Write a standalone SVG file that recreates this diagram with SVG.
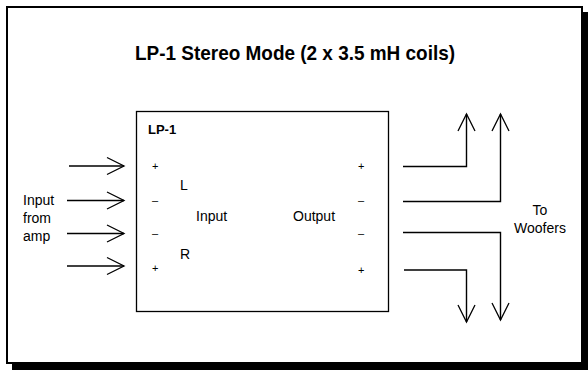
<svg xmlns="http://www.w3.org/2000/svg" width="588" height="370" viewBox="0 0 588 370">
<style>
text{font-family:"Liberation Sans",Arial,sans-serif;fill:#000}
.lbl{font-size:14px}
.pm{font-size:11px}
.wire{fill:none;stroke:#000;stroke-width:1.4}
</style>
<defs>
<marker id="arr" viewBox="0 0 20 20" refX="18" refY="10" markerWidth="20" markerHeight="20" markerUnits="userSpaceOnUse" orient="auto">
<path d="M1,1.5 L18,10 L1,18.5" fill="none" stroke="#000" stroke-width="1.3"/>
</marker>
</defs>
<rect x="0" y="0" width="588" height="370" fill="#fff"/>
<g id="frame">
<rect x="12" y="12" width="576" height="358" fill="#000"/>
<rect x="7" y="7" width="575" height="356" fill="#fff" stroke="#000" stroke-width="2"/>
<text x="295" y="60" font-size="21" font-weight="bold" text-anchor="middle" textLength="320" lengthAdjust="spacingAndGlyphs">LP-1 Stereo Mode (2 x 3.5 mH coils)</text>
</g>
<g id="lp1">
<rect x="136.5" y="111.5" width="252" height="200" fill="#fff" stroke="#000" stroke-width="1.3"/>
<text x="148" y="134" font-size="13" font-weight="bold">LP-1</text>
<text class="pm" x="152" y="170">+</text>
<text class="pm" x="152" y="204">–</text>
<text class="pm" x="152" y="237">–</text>
<text class="pm" x="152" y="272">+</text>
<text class="lbl" x="180" y="190">L</text>
<text class="lbl" x="180" y="259">R</text>
<text class="lbl" x="196" y="221">Input</text>
<text class="lbl" x="293" y="221">Output</text>
<text class="pm" x="358" y="170">+</text>
<text class="pm" x="358" y="204">–</text>
<text class="pm" x="358" y="237">–</text>
<text class="pm" x="358" y="274">+</text>
</g>
<g id="input-label">
<text class="lbl" x="23" y="205">Input</text>
<text class="lbl" x="23" y="223">from</text>
<text class="lbl" x="23" y="241">amp</text>
</g>
<g id="output-label">
<text class="lbl" x="540" y="215" text-anchor="middle">To</text>
<text class="lbl" x="540" y="233" text-anchor="middle">Woofers</text>
</g>
<g id="connectors">
<path class="wire" d="M69,166 H124" marker-end="url(#arr)"/>
<path class="wire" d="M67,200.5 H124" marker-end="url(#arr)"/>
<path class="wire" d="M67,233.5 H124" marker-end="url(#arr)"/>
<path class="wire" d="M67,266 H124" marker-end="url(#arr)"/>
<path class="wire" d="M403,166.5 H466.5 V114" marker-end="url(#arr)"/>
<path class="wire" d="M403,201.5 H500.5 V114" marker-end="url(#arr)"/>
<path class="wire" d="M403,232.5 H500.5 V320" marker-end="url(#arr)"/>
<path class="wire" d="M404,270 H466.5 V322" marker-end="url(#arr)"/>
</g>
</svg>
